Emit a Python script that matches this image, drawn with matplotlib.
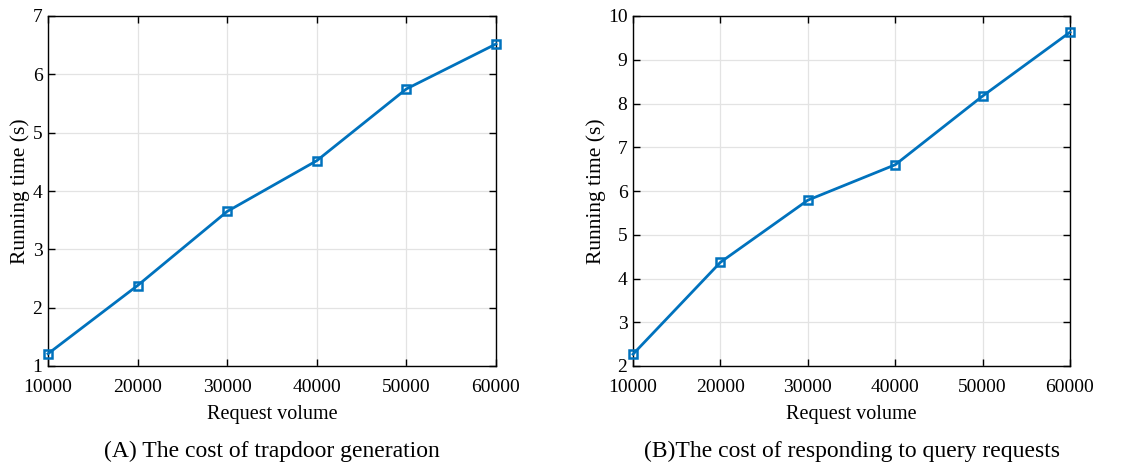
import matplotlib
matplotlib.use("Agg")
import matplotlib.pyplot as plt

plt.rcParams['font.family'] = ['Liberation Serif', 'DejaVu Serif']
plt.rcParams['mathtext.fontset'] = 'stix'

request_volume = [10000, 20000, 30000, 40000, 50000, 60000]
trapdoor_time = [1.21, 2.38, 3.65, 4.52, 5.75, 6.52]
query_time = [2.27, 4.37, 5.79, 6.60, 8.17, 9.63]
x_ticks = [10000, 20000, 30000, 40000, 50000, 60000]
yticks_a = [1, 2, 3, 4, 5, 6, 7]
yticks_b = [2, 3, 4, 5, 6, 7, 8, 9, 10]
captions = ["(A) The cost of trapdoor generation",
            "(B)The cost of responding to query requests"]

color = '#0072BD'
W, H = 1143, 462
fig = plt.figure(figsize=(W / 100, H / 100), dpi=100)

axes_px = [(48, 16, 496, 366), (633, 16, 1070, 366)]
series = [trapdoor_time, query_time]
yticks_all = [yticks_a, yticks_b]

for (l, t, r, b), ys, yt, cap in zip(axes_px, series, yticks_all, captions):
    ax = fig.add_axes([l / W, 1 - b / H, (r - l) / W, (b - t) / H])
    ax.plot(request_volume, ys, color=color, lw=2, marker='s', ms=6,
            mfc='none', mec=color, mew=1.8, clip_on=False, zorder=3)
    ax.set_xlim(x_ticks[0], x_ticks[-1])
    ax.set_ylim(yt[0], yt[-1])
    ax.set_xticks(x_ticks)
    ax.set_yticks(yt)
    ax.grid(True, color='#e3e3e3', lw=0.9)
    ax.set_axisbelow(True)
    ax.tick_params(direction='in', top=True, right=True, length=5, width=1,
                   labelsize=14, colors='black')
    ax.tick_params(axis='x', pad=9.5)
    ax.tick_params(axis='y', pad=4)
    for s in ax.spines.values():
        s.set_linewidth(1.0)
    ax.set_xlabel('Request volume', fontsize=14.5, labelpad=6)
    ax.set_ylabel('Running time (s)', fontsize=15.5, labelpad=1.5)
    cx = (l + r) / 2 / W
    fig.text(cx, 1 - 457 / H, cap, ha='center', va='baseline', fontsize=17)

fig.savefig('out.png', dpi=100)
